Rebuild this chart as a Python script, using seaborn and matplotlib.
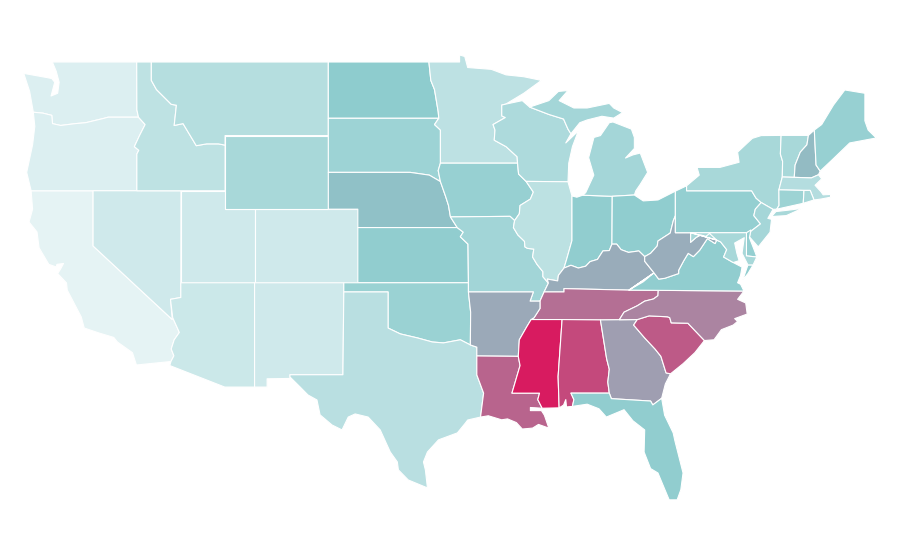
import matplotlib
matplotlib.use("Agg")
import matplotlib.pyplot as plt
from matplotlib.collections import PolyCollection
import seaborn as sns

# shared borders (lon, lat), each used forwards by one state, backwards by the other
MN_WI = [(-92.02,46.71),(-92.29,46.66),(-92.29,46.07),(-92.05,45.98),(-92.88,45.6),(-92.75,45.3),(-92.8,44.75),(-92.0,44.4),(-91.25,43.85),(-91.22,43.5)]
WI_IA = [(-91.22,43.5),(-91.15,42.91),(-90.64,42.51)]
IL_IA = [(-90.64,42.51),(-90.15,41.93),(-90.35,41.55),(-91.05,41.2),(-91.1,40.75),(-91.42,40.38)]
IL_MO = [(-91.42,40.38),(-91.5,40.0),(-91.2,39.6),(-90.75,39.25),(-90.72,38.95),(-90.55,38.87),(-90.12,38.83),(-90.2,38.4),(-89.9,38.0),(-89.5,37.6),(-89.5,37.33),(-89.13,36.98)]
KY_IL = [(-89.13,36.98),(-89.2,37.2),(-88.5,37.1),(-88.45,37.4),(-88.07,37.8)]
IN_KY = [(-88.07,37.8),(-87.6,37.95),(-87.1,37.8),(-86.6,37.9),(-86.3,38.15),(-85.8,38.27),(-85.43,38.73),(-85.0,38.75),(-84.82,39.1)]
OH_KY = [(-84.82,39.1),(-84.5,39.1),(-84.2,38.8),(-83.7,38.65),(-83.0,38.73),(-82.6,38.42)]
OH_WV = [(-82.6,38.42),(-82.2,38.6),(-81.75,39.0),(-81.7,39.27),(-80.87,39.7),(-80.65,40.4),(-80.52,40.64)]
KY_WV = [(-82.6,38.42),(-82.6,38.17),(-81.97,37.54)]
KY_VA = [(-81.97,37.54),(-82.7,37.05),(-83.67,36.6)]
WV_VA = [(-81.97,37.54),(-81.65,37.2),(-81.25,37.24),(-80.3,37.5),(-80.3,37.68),(-79.95,38.2),(-79.65,38.6),(-79.3,38.42),(-78.87,38.77),(-78.35,39.4),(-77.83,39.13),(-77.72,39.32)]
MD_WV = [(-77.72,39.32),(-78.2,39.68),(-78.45,39.52),(-78.8,39.6),(-79.1,39.47),(-79.49,39.2),(-79.48,39.72)]
POTOMAC = [(-77.72,39.32),(-77.45,39.22),(-77.04,38.8),(-77.25,38.4),(-76.6,38.1),(-76.0,37.85)]
TN_AR = [(-89.7,36.0),(-89.7,35.6),(-90.1,35.1),(-90.3,35.0)]
MS_AR = [(-90.3,35.0),(-90.6,34.6),(-91.1,33.9),(-91.17,33.0)]
LA_MS = [(-91.17,33.0),(-91.05,32.5),(-91.6,31.0),(-89.73,31.0),(-89.85,30.65),(-89.55,30.18)]
LA_TX = [(-93.98,33.02),(-93.98,31.99),(-93.52,31.0),(-93.73,29.7)]
RED_RIVER = [(-94.42,33.62),(-95.1,33.9),(-96.25,33.73),(-97.0,33.78),(-98.0,34.0),(-99.17,34.22),(-100.0,34.54)]
COLORADO_RIVER = [(-114.6,35.1),(-114.15,34.3),(-114.5,33.9),(-114.7,33.4),(-114.52,33.03),(-114.72,32.72)]
SNAKE = [(-117.03,44.0),(-116.9,44.2),(-117.2,44.4),(-116.85,45.0),(-116.47,45.6),(-116.92,46.0)]
COLUMBIA = [(-116.92,46.0),(-118.98,46.0),(-119.3,45.93),(-120.5,45.7),(-121.2,45.65),(-122.2,45.55),(-122.75,45.65),(-122.8,46.1),(-123.4,46.22),(-124.05,46.27)]
ID_MT = [(-116.05,48.0),(-115.7,47.5),(-114.7,46.7),(-114.35,46.65),(-114.5,45.55),(-113.9,45.65),(-113.45,45.05),(-113.0,44.45),(-112.3,44.55),(-111.5,44.55),(-111.05,44.48)]
MO_RIVER = [(-96.45,42.5),(-96.1,41.7),(-95.9,41.2),(-95.77,40.58)]
KS_MO = [(-95.77,40.58),(-95.31,40.0),(-94.9,39.75),(-95.1,39.5),(-94.58,39.1),(-94.55,37.0),(-94.55,36.5)]
SD_MN = [(-96.56,45.94),(-96.85,45.6),(-96.45,45.3),(-96.45,43.5)]
SD_IA = [(-96.45,43.5),(-96.6,43.1),(-96.45,42.5)]
ND_MN = [(-97.23,49.0),(-97.1,48.0),(-96.85,47.5),(-96.6,46.3),(-96.56,45.94)]
TN_NC = [(-81.68,36.59),(-81.7,36.3),(-82.0,36.12),(-82.6,36.0),(-83.1,35.75),(-84.0,35.4),(-84.32,34.99)]
NC_SC = [(-83.1,35.0),(-82.3,35.2),(-81.05,35.15),(-80.9,35.1),(-80.8,34.82),(-79.67,34.8),(-78.55,33.86)]
GA_SC = [(-83.1,35.0),(-83.35,34.7),(-82.6,34.0),(-81.9,33.4),(-81.5,33.0),(-81.15,32.1),(-80.85,32.05)]
GA_AL = [(-85.6,34.98),(-85.18,32.87),(-85.0,32.3),(-85.1,31.6),(-85.0,31.0)]
GA_FL = [(-85.0,31.0),(-84.86,30.7),(-82.2,30.57),(-82.05,30.36),(-81.45,30.72)]
AL_FL = [(-87.6,31.0),(-87.4,30.65),(-87.5,30.28)]
IL_IN = [(-88.07,37.8),(-87.9,38.25),(-87.53,39.3),(-87.53,41.72)]
NY_PA = [(-75.35,42.0),(-75.05,41.6),(-74.7,41.36)]
NJ_PA = [(-74.7,41.36),(-75.1,41.0),(-75.2,40.65),(-74.75,40.2),(-75.4,39.8)]
VT_NY = [(-73.35,45.01),(-73.4,44.0),(-73.25,43.6),(-73.27,42.75)]
VT_NH = [(-71.5,45.01),(-71.6,44.5),(-72.05,44.1),(-72.4,43.4),(-72.46,42.73)]


def rev(border):
    return border[::-1]


# outlines, one list of rings per state
OUTLINES = {
    "WA": [COLUMBIA[::-1] + [(-117.03,46.4),(-117.04,49.0),(-122.76,49.0),(-122.5,48.5),(-122.3,47.9),(-122.4,47.3),(-122.85,47.15),(-122.6,47.9),(-122.8,48.1),(-123.1,48.15),(-124.7,48.38),(-124.3,47.4),(-124.05,46.27)]],
    "OR": [[(-124.2,42.0),(-117.03,42.0)] + SNAKE + COLUMBIA + [(-123.95,45.5),(-124.1,44.5),(-124.5,43.0)]],
    "CA": [[(-124.2,42.0),(-120.0,42.0),(-120.0,39.0),(-114.63,35.0)] + COLORADO_RIVER + [(-117.06,32.53),(-117.33,33.2),(-118.35,33.78),(-118.6,34.03),(-119.6,34.27),(-120.6,34.54),(-120.8,35.14),(-121.75,36.6),(-121.8,36.99),(-122.4,37.5),(-122.2,37.75),(-122.0,38.05),(-122.45,38.0),(-122.5,37.86),(-123.0,38.0),(-123.66,38.9),(-123.8,39.76),(-124.34,40.3),(-124.1,41.0)]],
    "NV": [[(-120.0,42.0),(-114.04,42.0),(-114.05,36.2),(-114.75,36.1),(-114.63,35.0),(-120.0,39.0)]],
    "ID": [[(-117.04,49.0),(-116.05,49.0)] + ID_MT + [(-111.05,42.0),(-117.03,42.0)] + SNAKE + [(-117.03,46.4)]],
    "MT": [[(-116.05,49.0),(-104.05,49.0),(-104.05,45.0),(-111.05,45.0)] + rev(ID_MT)],
    "WY": [[(-111.05,45.0),(-104.05,45.0),(-104.05,41.0),(-111.05,41.0)]],
    "UT": [[(-114.04,42.0),(-111.05,42.0),(-111.05,41.0),(-109.05,41.0),(-109.05,37.0),(-114.05,37.0)]],
    "CO": [[(-109.05,41.0),(-102.05,41.0),(-102.05,37.0),(-109.05,37.0)]],
    "AZ": [[(-109.05,37.0),(-114.05,37.0),(-114.05,36.2),(-114.75,36.1)] + COLORADO_RIVER + [(-114.8,32.5),(-111.07,31.33),(-109.05,31.33)]],
    "NM": [[(-103.0,37.0),(-109.05,37.0),(-109.05,31.33),(-108.2,31.33),(-108.2,31.78),(-106.65,31.8),(-106.65,32.0),(-103.06,32.0),(-103.0,36.5)]],
    "ND": [[(-104.05,49.0)] + ND_MN + [(-104.05,45.94)]],
    "SD": [[(-104.05,45.94)] + SD_MN + SD_IA + [(-97.2,42.85),(-98.5,43.0),(-104.05,43.0)]],
    "NE": [[(-104.05,43.0),(-98.5,43.0),(-97.2,42.85)] + MO_RIVER + [(-95.31,40.0),(-102.05,40.0),(-102.05,41.0),(-104.05,41.0)]],
    "KS": [[(-102.05,40.0),(-95.31,40.0),(-94.9,39.75),(-95.1,39.5),(-94.58,39.1),(-94.55,37.0),(-102.05,37.0)]],
    "OK": [[(-103.0,37.0),(-94.55,37.0),(-94.55,36.5),(-94.4,35.4)] + RED_RIVER + [(-100.0,36.5),(-103.0,36.5)]],
    "TX": [[(-103.0,36.5),(-100.0,36.5)] + rev(RED_RIVER) + [(-93.98,33.5)] + LA_TX + [(-94.6,29.54),(-94.75,29.38),(-95.3,28.84),(-96.58,28.46),(-97.33,27.8),(-97.6,27.26),(-97.47,26.83),(-97.33,25.85),(-98.63,26.28),(-99.3,26.83),(-99.37,27.26),(-99.85,27.8),(-100.53,29.0),(-101.35,29.7),(-102.23,29.87),(-102.7,29.7),(-103.12,29.0),(-103.8,29.27),(-104.61,29.82),(-104.82,30.63),(-105.43,30.9),(-105.97,31.34),(-106.65,31.88),(-106.65,32.0),(-103.06,32.0)]],
    "MN": [[(-97.23,49.0),(-95.15,49.0),(-95.15,49.38),(-94.8,49.3),(-94.6,48.7),(-93.0,48.6),(-92.0,48.3),(-90.8,48.2),(-89.6,48.0),(-90.8,47.3)] + MN_WI + rev(SD_MN) + rev(ND_MN)],
    "IA": [[(-96.45,43.5)] + WI_IA + IL_IA + [(-91.73,40.61),(-95.77,40.58)] + rev(MO_RIVER) + rev(SD_IA)],
    "MO": [[(-95.77,40.58),(-91.73,40.61)] + IL_MO + [(-89.42,36.5),(-89.7,36.0),(-90.37,36.0),(-90.15,36.5),(-94.55,36.5)] + rev(KS_MO)],
    "AR": [[(-94.55,36.5),(-90.15,36.5),(-90.37,36.0)] + TN_AR + MS_AR + [(-93.98,33.02),(-93.98,33.5),(-94.42,33.62),(-94.4,35.4)]],
    "LA": [[(-93.98,33.02)] + LA_MS + [(-90.35,30.22),(-90.35,30.05),(-89.6,30.05),(-89.4,29.8),(-89.1,29.1),(-89.8,29.3),(-90.2,29.1),(-90.9,29.05),(-91.3,29.4),(-91.9,29.6),(-92.3,29.55),(-93.2,29.77)] + rev(LA_TX)],
    "WI": [MN_WI + WI_IA + [(-87.8,42.49),(-87.75,43.5),(-87.5,44.4),(-87.1,45.25),(-87.95,44.6),(-87.6,45.1),(-87.8,45.35),(-88.1,45.9),(-89.1,46.15),(-90.4,46.55),(-90.9,46.9)]],
    "IL": [IL_IA[::-1] + [(-90.64,42.51),(-87.8,42.49)] + rev(IL_IN) + rev(KY_IL) + rev(IL_MO)],
    "MI": [[(-90.4,46.55),(-89.1,46.9),(-88.45,47.4),(-87.8,47.45),(-88.4,46.9),(-87.4,46.5),(-86.5,46.5),(-85.0,46.75),(-84.7,46.5),(-84.1,46.25),(-84.7,45.95),(-85.5,46.05),(-86.5,45.85),(-87.0,45.7),(-87.6,45.1),(-87.8,45.35),(-88.1,45.9),(-89.1,46.15)],
           [(-86.8,41.76),(-86.6,41.9),(-86.05,42.85),(-86.4,43.8),(-86.04,44.9),(-85.6,45.0),(-85.0,45.7),(-84.75,45.74),(-83.5,45.35),(-83.3,44.9),(-83.3,44.3),(-83.9,43.78),(-83.4,43.95),(-82.9,44.05),(-82.4,43.0),(-82.9,42.35),(-83.2,42.0),(-83.3,41.77),(-84.8,41.7)]],
    "IN": [[(-87.53,41.72),(-87.2,41.65),(-86.8,41.76),(-84.8,41.7),(-84.82,39.1)] + rev(IN_KY) + IL_IN],
    "OH": [[(-84.8,41.7),(-83.3,41.77),(-82.7,41.45),(-81.7,41.5),(-80.52,41.98),(-80.52,40.64)] + rev(OH_WV) + rev(OH_KY)],
    "KY": [[(-89.42,36.5),(-88.07,36.5),(-88.07,36.68),(-83.67,36.6)] + rev(KY_VA) + rev(KY_WV) + rev(OH_KY) + rev(IN_KY) + rev(KY_IL)],
    "TN": [[(-89.7,36.0),(-89.42,36.5),(-88.07,36.5),(-88.07,36.68),(-83.67,36.6)] + TN_NC + [(-85.6,34.98),(-88.2,35.0),(-90.3,35.0)] + rev(TN_AR)],
    "MS": [MS_AR[::-1] + [(-90.3,35.0),(-88.2,35.0),(-88.47,31.9),(-88.4,30.2)] + rev(LA_MS)],
    "AL": [[(-88.2,35.0)] + GA_AL + [(-87.6,31.0)] + AL_FL + [(-87.9,30.25),(-87.95,30.65),(-88.1,30.35)] + [(-88.4,30.2),(-88.47,31.9)]],
    "GA": [[(-84.32,34.99),(-83.1,35.0)] + GA_SC + [(-81.2,31.5)] + rev(GA_FL) + rev(GA_AL)],
    "FL": [[(-87.6,31.0)] + GA_FL + [(-81.25,29.8),(-80.67,28.84),(-80.55,28.4),(-80.0,26.66),(-80.15,25.75),(-80.4,25.2),(-80.94,25.2),(-81.7,26.66),(-82.2,26.9),(-82.64,27.8),(-82.6,29.0),(-83.4,29.5),(-84.0,30.1),(-85.2,29.7),(-85.7,30.15),(-86.5,30.4),(-87.5,30.28)] + [(-87.4,30.65)]],
    "SC": [NC_SC + [(-79.2,33.2),(-80.0,32.6)] + rev(GA_SC)],
    "NC": [TN_NC[:1] + [(-75.87,36.55),(-76.3,36.1),(-75.75,35.9),(-75.65,35.3),(-76.5,35.05),(-76.3,34.9),(-76.6,34.7),(-77.4,34.45),(-77.9,33.9)] + rev(NC_SC) + [(-84.32,34.99)] + rev(TN_NC)[1:]],
    "VA": [[(-83.67,36.6),(-75.87,36.55),(-76.1,36.92),(-76.3,37.0),(-76.1,37.4)] + rev(POTOMAC) + rev(WV_VA) + rev(KY_VA)],
    "VA2": [[(-75.25,37.97),(-75.6,37.97),(-75.95,37.15),(-75.6,37.5)]],
    "WV": [KY_WV[::-1] + OH_WV + [(-80.52,39.72),(-79.48,39.72)] + rev(MD_WV) + rev(WV_VA)],
    "PA": [[(-80.52,41.98),(-79.76,42.27),(-79.76,42.0)] + NY_PA + NJ_PA + [(-75.7,39.72),(-80.52,39.72),(-80.52,40.64)]],
    "NY": [[(-79.76,42.27),(-78.9,42.85),(-79.05,43.27),(-77.5,43.27),(-76.2,43.55),(-76.3,44.1),(-75.3,44.85),(-74.7,45.0)] + VT_NY + [(-73.5,42.05),(-73.49,41.2),(-73.65,41.0),(-73.9,40.99),(-74.7,41.36)] + rev(NY_PA) + [(-79.76,42.0)],
           [(-74.0,40.6),(-73.0,40.65),(-71.9,41.05),(-72.6,40.97),(-73.7,40.87)]],
    "NJ": [[(-74.7,41.36),(-73.9,40.99),(-74.25,40.5),(-74.0,40.45),(-74.1,39.75),(-74.9,38.95),(-75.5,39.5),(-75.4,39.8)] + rev(NJ_PA)],
    "DE": [[(-75.7,39.72),(-75.4,39.87),(-75.5,39.45),(-75.12,38.67),(-75.0,38.4),(-75.7,38.46)]],
    "MD": [[(-79.48,39.72),(-75.7,39.72),(-75.7,38.46),(-75.0,38.4),(-75.25,37.97),(-75.6,37.97),(-76.0,38.6),(-75.85,39.45),(-76.5,39.16),(-76.35,38.6),(-76.2,38.2)] + rev(POTOMAC)[1:] + rev(MD_WV)],
    "VT": [[(-73.35,45.01)] + VT_NH + rev(VT_NY)],
    "NH": [VT_NH[:1] + [(-71.1,45.3),(-70.98,43.4),(-70.7,43.07),(-70.82,42.87),(-71.3,42.7)] + rev(VT_NH)],
    "ME": [[(-71.1,45.3),(-70.6,45.6),(-69.8,46.66),(-69.03,47.48),(-67.67,47.3),(-67.67,45.8),(-67.45,45.3),(-66.9,44.87),(-68.7,44.6),(-69.8,43.75),(-70.7,43.07),(-70.98,43.4)]],
    "MA": [[(-73.5,42.05),(-73.27,42.75),(-72.46,42.73),(-71.3,42.7),(-70.82,42.87),(-70.6,42.65),(-71.05,42.3),(-70.65,41.95),(-70.5,41.78),(-70.0,41.8),(-70.0,41.65),(-70.65,41.55),(-71.12,41.5),(-71.38,42.02),(-71.8,42.02)]],
    "RI": [[(-71.8,42.02),(-71.38,42.02),(-71.12,41.5),(-71.85,41.32)]],
    "CT": [[(-73.5,42.05),(-71.8,42.02),(-71.85,41.32),(-73.65,41.0),(-73.49,41.2)]],
}

states = ["CA","WA","OR","NV","UT","CO","AZ","NM","ID","MT","WY","ND","SD","NE","KS","OK","TX",
          "MN","IA","MO","WI","IL","IN","MI","OH","KY","TN","AR","LA","MS","AL","GA","FL","SC",
          "NC","VA","VA2","WV","PA","NY","VT","NH","ME","MA","CT","RI","NJ","DE","MD"]
rates = [0.01,0.055,0.055,0.13,0.13,0.13,0.15,0.13,0.22,0.27,0.345,0.49,0.405,0.53,0.47,0.42,0.25,
         0.23,0.44,0.38,0.32,0.235,0.47,0.37,0.48,0.588,0.76,0.597,0.79,1.0,0.87,0.625,0.47,0.82,
         0.70,0.47,0.47,0.585,0.455,0.345,0.345,0.545,0.44,0.28,0.41,0.345,0.36,0.455,0.345]

cmap = sns.blend_palette(["#e6f4f5", "#8ccbcd", "#d81b60"], as_cmap=True)

sns.set_theme(style="white")
fig = plt.figure(figsize=(9, 5.6), dpi=100)
ax = fig.add_axes([0, 0, 1, 1])

rings = []
ring_rates = []
for state, rate in zip(states, rates):
    for ring in OUTLINES[state]:
        rings.append(ring)
        ring_rates.append(rate)

shapes = PolyCollection(rings, array=ring_rates, cmap=cmap, edgecolors="white", linewidths=0.8)
shapes.set_clim(0, 1)
ax.add_collection(shapes)

ax.set_xlim(-126.31, -65.29)
ax.set_ylim(21.93, 52.37)
ax.set_axis_off()

fig.savefig("out.png", dpi=100)
